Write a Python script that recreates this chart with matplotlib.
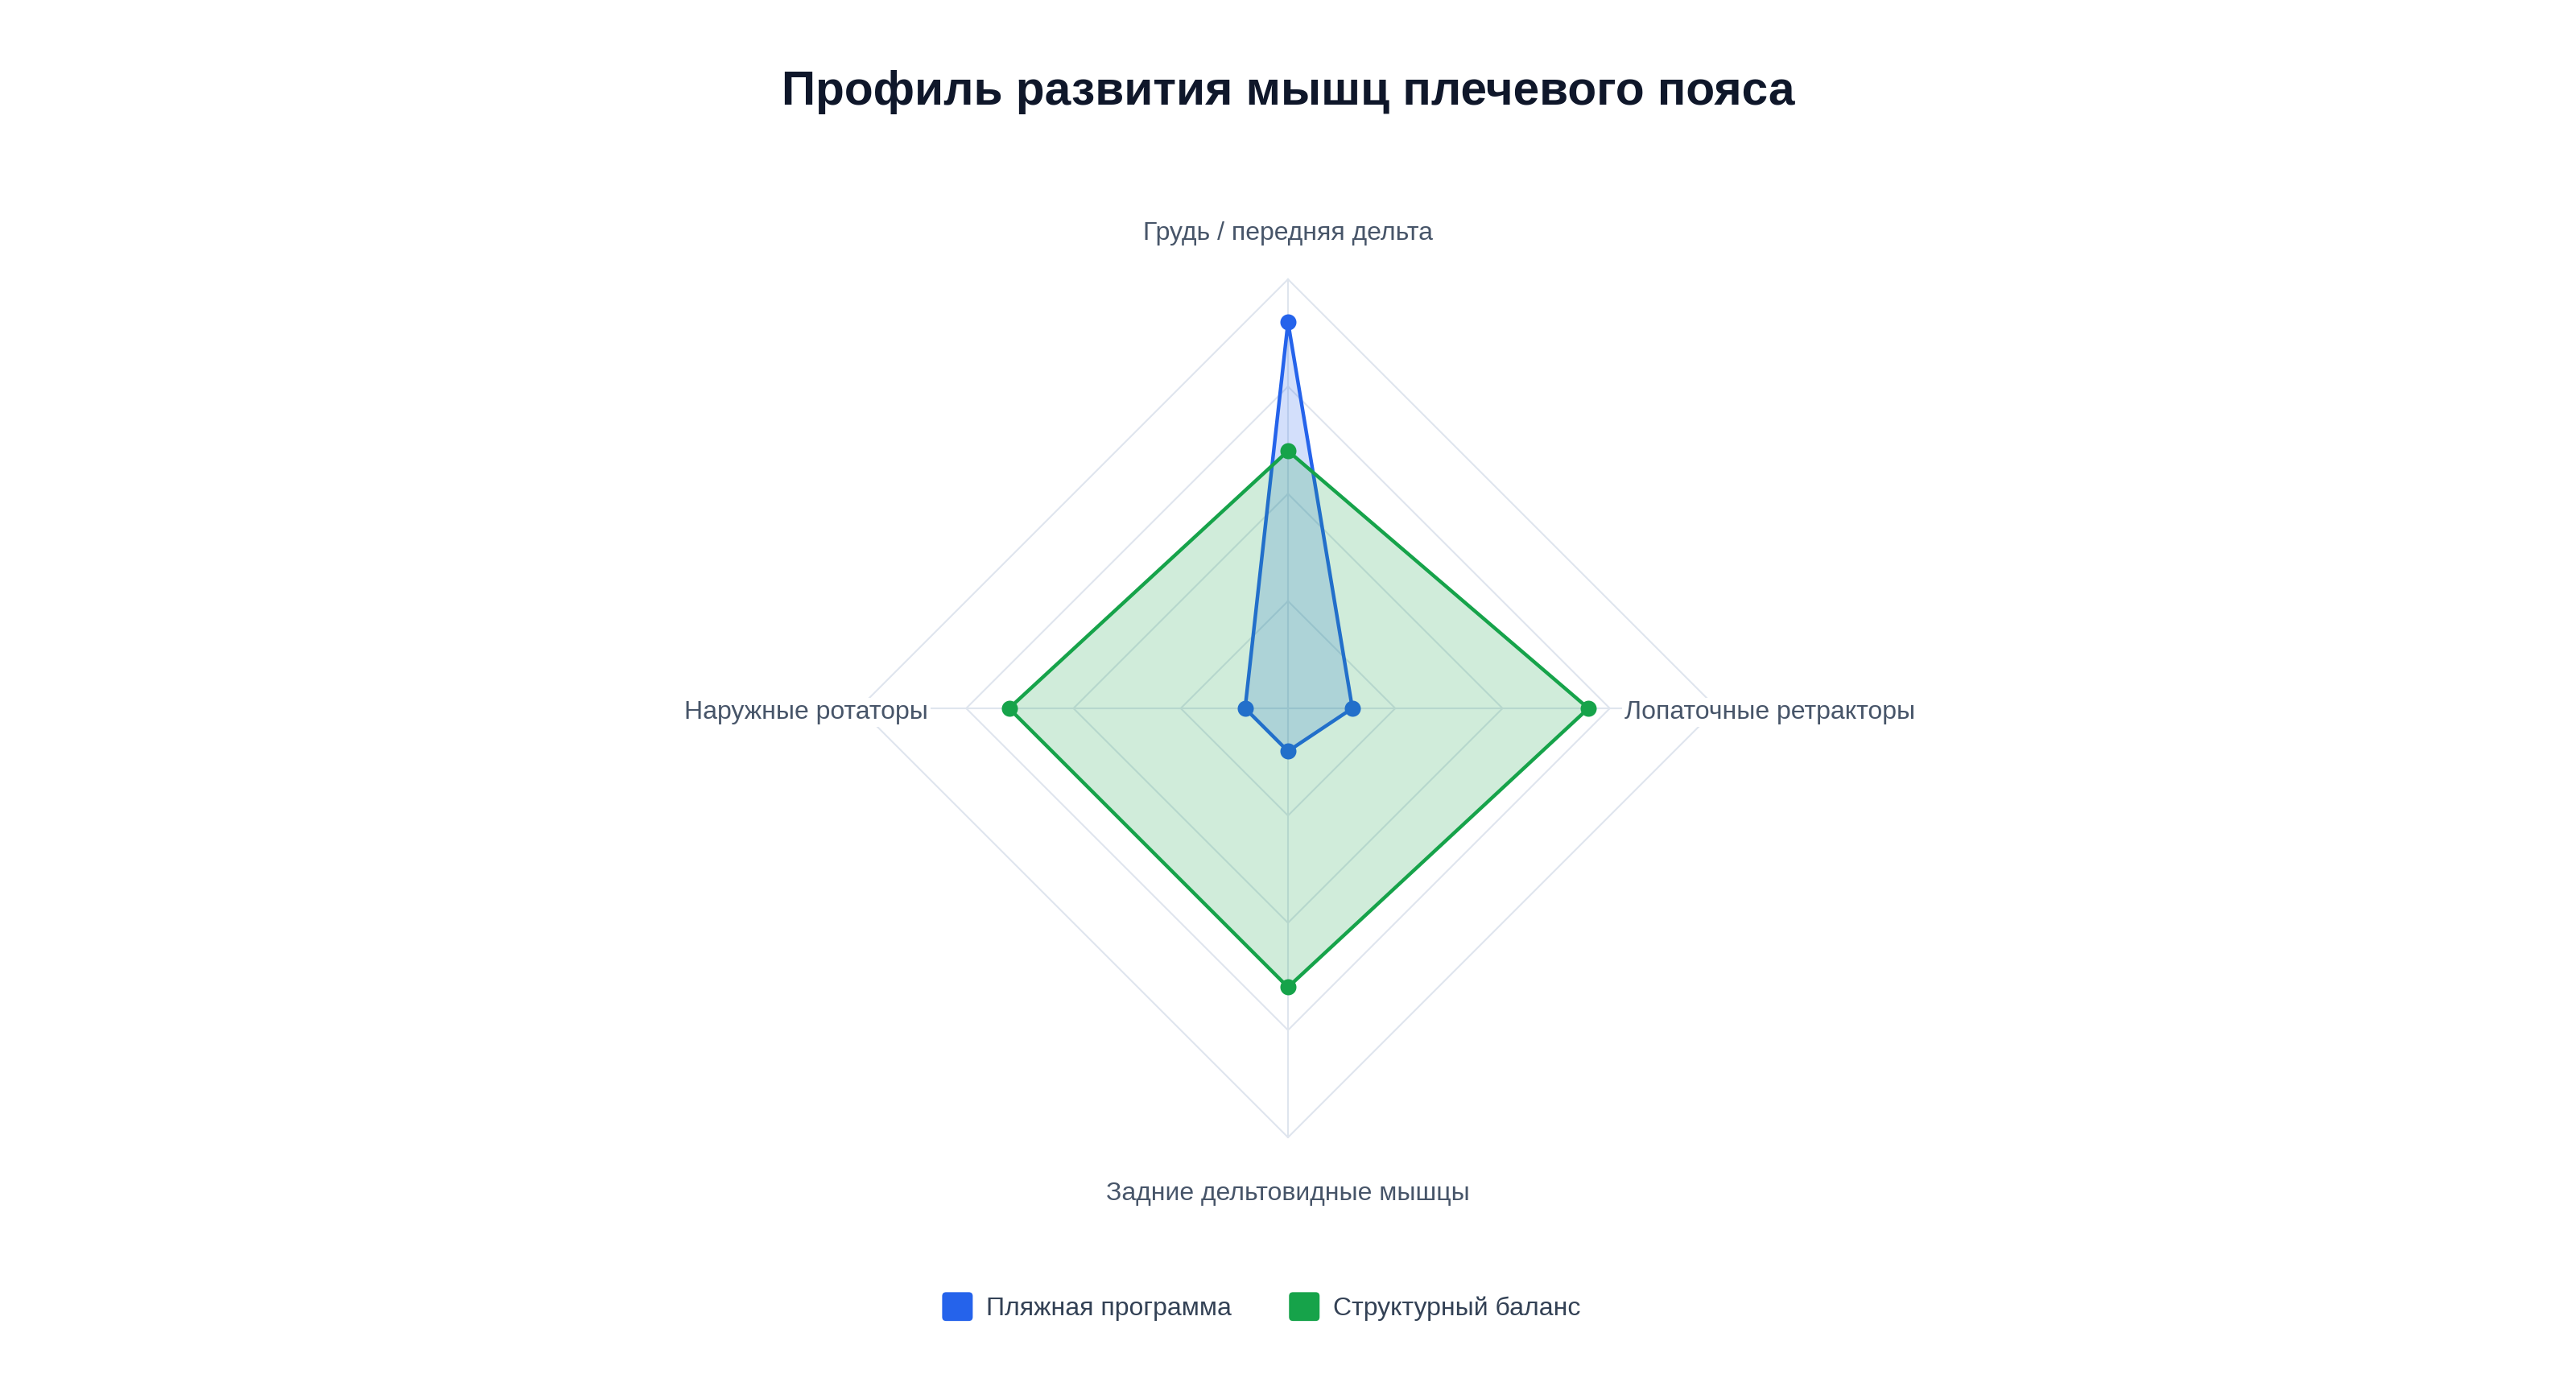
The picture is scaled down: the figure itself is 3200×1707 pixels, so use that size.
import numpy as np
import matplotlib
matplotlib.use("Agg")
import matplotlib.pyplot as plt
from matplotlib.patches import FancyBboxPatch, Patch
from matplotlib.legend_handler import HandlerPatch

plt.rcParams['font.family'] = ['Liberation Sans', 'DejaVu Sans']

# ---------------- data ----------------
categories = ["Грудь / передняя дельта", "Лопаточные ретракторы",
              "Задние дельтовидные мышцы", "Наружные ротаторы"]
series_names = ["Пляжная программа", "Структурный баланс"]
beach_values = [90, 15, 10, 10]
balance_values = [60, 70, 65, 65]
ring_values = [25, 50, 75, 100]
r_max = 100

colors = ["#2563eb", "#16a34a"]

W, H = 3200, 1707
DPI = 200
fig = plt.figure(figsize=(W / DPI, H / DPI), dpi=DPI)
fig.patch.set_facecolor("white")

# axes: centre at (1600, 880) px from top-left, value 100 -> 533 px
cx, cy, R = 1600, 880, 533
lim = 150
half = R * lim / r_max
ax = fig.add_axes([(cx - half) / W, (H - cy - half) / H, 2 * half / W, 2 * half / H])
ax.set_xlim(-lim, lim)
ax.set_ylim(-lim, lim)
ax.set_aspect("equal")
ax.axis("off")

n = len(categories)
theta = 2 * np.pi * np.arange(n) / n


def to_xy(vals):
    v = np.asarray(vals, dtype=float)
    x = v * np.sin(theta)
    y = v * np.cos(theta)
    return np.append(x, x[0]), np.append(y, y[0])


grid_color = "#dfe5ee"
for rv in ring_values:
    gx, gy = to_xy([rv] * n)
    ax.plot(gx, gy, color=grid_color, lw=0.75, zorder=1)
for t in theta:
    ax.plot([0, r_max * np.sin(t)], [0, r_max * np.cos(t)], color=grid_color, lw=0.75, zorder=1)

for i, (vals, c) in enumerate(zip([beach_values, balance_values], colors)):
    x, y = to_xy(vals)
    z = 4 + 2 * i
    ax.fill(x, y, color=c, alpha=0.2, lw=0, zorder=z)
    ax.plot(x, y, color=c, lw=1.6, zorder=z + 0.5)
    ax.plot(x[:-1], y[:-1], 'o', color=c, markersize=7.2, markeredgewidth=0, zorder=z + 0.6)


def fx(x):
    return x / W


def fy(y):
    return 1 - y / H


label_color = "#475569"
lfs = 11.5
bbox = dict(facecolor="white", edgecolor="none", pad=1.0)
fig.text(fx(1600), fy(298), categories[0], ha="center", va="baseline",
         fontsize=lfs, color=label_color, bbox=bbox, zorder=3)
fig.text(fx(2018), fy(893), categories[1], ha="left", va="baseline",
         fontsize=lfs, color=label_color, bbox=bbox, zorder=3)
fig.text(fx(1600), fy(1491), categories[2], ha="center", va="baseline",
         fontsize=lfs, color=label_color, bbox=bbox, zorder=3)
fig.text(fx(1153), fy(893), categories[3], ha="right", va="baseline",
         fontsize=lfs, color=label_color, bbox=bbox, zorder=3)

fig.text(fx(1600), fy(129.5), "Профиль развития мышц плечевого пояса", ha="center",
         va="baseline", fontsize=21.1, fontweight="bold", color="#0f172a")


class RoundHandler(HandlerPatch):
    def create_artists(self, legend, orig_handle, xdescent, ydescent, width, height,
                       fontsize, trans):
        p = FancyBboxPatch((-xdescent, -ydescent - height * 0.05), width, height * 1.1,
                           boxstyle="round,pad=0,rounding_size=%f" % (height * 0.15),
                           facecolor=orig_handle.get_facecolor(), edgecolor="none",
                           transform=trans)
        return [p]


fpx = lfs * DPI / 72
handles = [Patch(facecolor=c, label=s) for c, s in zip(colors, series_names)]
leg = fig.legend(handles=handles, loc="center", bbox_to_anchor=(fx(1567), fy(1624)),
                 ncol=2, frameon=False, fontsize=lfs,
                 handlelength=38 / fpx, handleheight=38 / fpx,
                 handletextpad=17 / fpx, columnspacing=71 / fpx, borderpad=0,
                 handler_map={Patch: RoundHandler()})
for t in leg.get_texts():
    t.set_color("#334155")

fig.savefig("out.png", dpi=DPI, facecolor="white")
